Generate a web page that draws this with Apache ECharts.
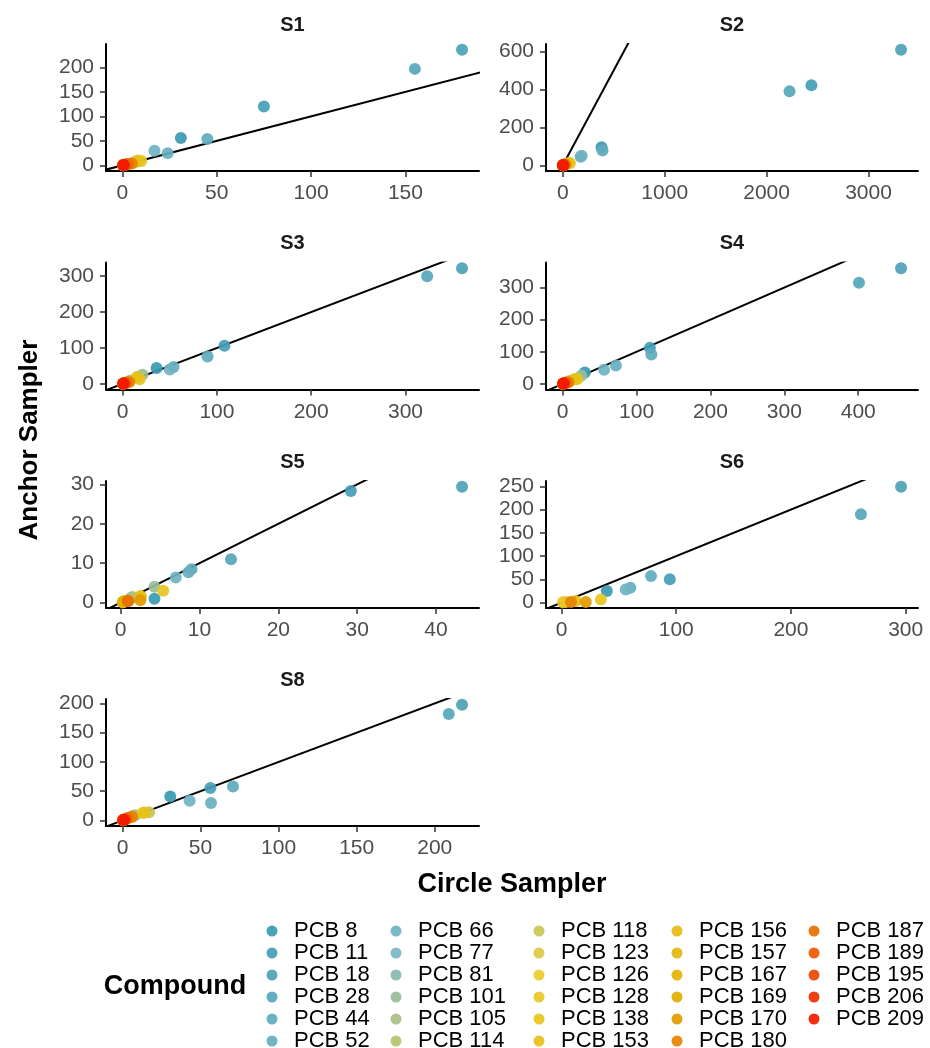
<!DOCTYPE html>
<html><head><meta charset="utf-8">
<script src="https://cdn.jsdelivr.net/npm/echarts@6/dist/echarts.min.js"></script>
<style>html,body{margin:0;padding:0;background:#fff}#c{width:930px;height:1048px}</style>
</head><body><div id="c"></div>
<script>
// ---------- data ----------
const compounds = ['PCB 8','PCB 11','PCB 18','PCB 28','PCB 44','PCB 52','PCB 66','PCB 77','PCB 81','PCB 101','PCB 105','PCB 114','PCB 118','PCB 123','PCB 126','PCB 128','PCB 138','PCB 153','PCB 156','PCB 157','PCB 167','PCB 169','PCB 170','PCB 180','PCB 187','PCB 189','PCB 195','PCB 206','PCB 209'];
const panelNames = ['S1','S2','S3','S4','S5','S6','S8'];

const S1_circle = [31, 75, 180, 155, 45, 24, 17, 2, 0.5, 6, 3, 0.5, 8, 0.6, 0.3, 2, 10, 8, 1.5, 0.5, 0.8, 0.3, 3, 5, 3, 0.3, 0.6, 1, 0.5];
const S1_anchor = [56, 120, 236, 197, 54, 25, 30, 3, 0.6, 6, 3, 0.5, 8, 0.6, 0.3, 2, 9, 10, 1.5, 0.5, 0.8, 0.3, 3, 4, 3, 0.3, 0.6, 1, 0.5];

const S2_circle = [380, 2440, 3320, 2225, 390, 175, 185, 20, 3, 40, 15, 2, 60, 3, 1, 10, 70, 55, 8, 2, 4, 1, 15, 25, 12, 1, 3, 5, 2];
const S2_anchor = [95, 421, 608, 389, 78, 45, 50, 4, 0.5, 8, 3, 0.5, 10, 0.5, 0.2, 2, 12, 9, 1.5, 0.4, 0.7, 0.2, 3, 5, 2.5, 0.2, 0.5, 1, 0.5];

const S3_circle = [36, 108, 360, 323, 90, 54, 50, 3, 0.5, 21, 8, 0.8, 16, 1, 0.3, 4, 18, 15, 2, 0.6, 1, 0.3, 5, 7, 4, 0.4, 0.8, 1.5, 0.6];
const S3_anchor = [44, 106, 322, 300, 76, 47, 40, 3, 0.5, 25, 9, 0.8, 20, 1, 0.3, 4, 13, 18, 2, 0.6, 1, 0.3, 4, 5, 3, 0.4, 0.8, 1.5, 0.6];

const S4_circle = [30, 118, 458, 401, 120, 72, 56, 3, 0.5, 25, 9, 0.8, 20, 1, 0.3, 4, 19, 16, 2, 0.6, 1, 0.3, 6, 8, 5, 0.4, 1, 2, 0.7];
const S4_anchor = [35, 112, 360, 315, 91, 57, 44, 3, 0.5, 25, 9, 0.8, 16, 1, 0.3, 4, 14, 15, 2, 0.6, 1, 0.3, 4, 5, 3, 0.4, 0.8, 1.5, 0.6];

const S5_circle = [4.3, 29.2, 43.3, 14, 9, 8.6, 7, null, 1.3, 4.3, 1.5, 0.5, 2.6, 0.4, 0.3, 0.6, 5.4, 2.5, 0.4, 0.3, 0.4, 0.3, 2.5, 1.0, 0.9, null, null, null, null];
const S5_anchor = [1.0, 28.3, 29.4, 11, 8.5, 7.7, 6.4, null, 1.2, 4.0, 1.4, 0.4, 1.5, 0.3, 0.2, 0.5, 3.0, 1.7, 0.3, 0.1, 0.2, 0.1, 0.6, 0.4, 0.4, null, null, null, null];

const S6_circle = [39.5, 94.4, 296, 261, 78, 60, 56, null, null, null, null, null, 3.8, null, null, 1.2, 34.3, 12.5, null, null, null, null, 21.2, 8.2, null, null, null, null, null];
const S6_anchor = [25, 50.3, 249, 190, 57, 32, 28, null, null, null, null, null, 1.4, null, null, 0.9, 6.5, 3.4, null, null, null, null, 1.4, 1.4, null, null, null, null, null];

const S8_circle = [30.6, 56.3, 217.5, 209, 70.8, 56.7, 43, 2, 0.5, 8, 3, 0.8, 17, 1, 0.3, 3, 13, 14, 2, 0.6, 1, 0.3, 6, 6, 3.2, 0.4, 1, 1.5, 0.5];
const S8_anchor = [41, 55.3, 197.7, 182, 58, 29.6, 33.6, 2, 0.5, 9, 3, 0.8, 14, 1, 0.3, 3, 12.5, 13.5, 2, 0.6, 1, 0.3, 6.8, 6, 4, 0.4, 1, 1.5, 0.5];

const S1_xTicks = [0, 50, 100, 150];        const S1_yTicks = [0, 50, 100, 150, 200];
const S2_xTicks = [0, 1000, 2000, 3000];    const S2_yTicks = [0, 200, 400, 600];
const S3_xTicks = [0, 100, 200, 300];       const S3_yTicks = [0, 100, 200, 300];
const S4_xTicks = [0, 100, 200, 300, 400];  const S4_yTicks = [0, 100, 200, 300];
const S5_xTicks = [0, 10, 20, 30, 40];      const S5_yTicks = [0, 10, 20, 30];
const S6_xTicks = [0, 100, 200, 300];       const S6_yTicks = [0, 50, 100, 150, 200, 250];
const S8_xTicks = [0, 50, 100, 150, 200];   const S8_yTicks = [0, 50, 100, 150, 200];

const xTitle = 'Circle Sampler';
const yTitle = 'Anchor Sampler';
const legendTitle = 'Compound';

// ---------- style ----------
const colors = ['#3B9AB2','#449EB5','#4CA2B7','#55A6BA','#5EABBD','#67AFC0','#6FB3C2','#78B7C5',
  '#88BAAF','#99BD99','#A9C083','#BAC36C','#CAC656','#DBC940','#EBCC2A',
  '#EAC824','#E8C41E','#E7C018','#E5BB12','#E4B70C','#E2B306','#E1AF00',
  '#E39A00','#E68400','#E86F00','#EB5A00','#ED4500','#F02F00','#F21A00'];
const FONT = '"Liberation Sans", Arial, Helvetica, sans-serif';
const colLeft = [106, 546], colWidth = [373, 372];
const rowTop = [44, 262.5, 481, 699], rowHeight = 127;
const panelPos = [[0,0],[0,1],[1,0],[1,1],[2,0],[2,1],[3,0]];
const legendCols = [266.5, 390.5, 533.5, 671.5, 808.5];

// ---------- build ----------
const panelData = [
  [S1_circle, S1_anchor, S1_xTicks, S1_yTicks],
  [S2_circle, S2_anchor, S2_xTicks, S2_yTicks],
  [S3_circle, S3_anchor, S3_xTicks, S3_yTicks],
  [S4_circle, S4_anchor, S4_xTicks, S4_yTicks],
  [S5_circle, S5_anchor, S5_xTicks, S5_yTicks],
  [S6_circle, S6_anchor, S6_xTicks, S6_yTicks],
  [S8_circle, S8_anchor, S8_xTicks, S8_yTicks]
];
function limits(arr) {
  const v = arr.filter(d => d !== null);
  const lo = Math.min(...v), hi = Math.max(...v), r = hi - lo;
  return [lo - 0.05 * r, hi + 0.05 * r];
}
const plain = v => String(v);
const grids = [], xAxes = [], yAxes = [], series = [], graphics = [];
panelData.forEach((p, i) => {
  const [cx, cy, xt, yt] = p;
  const [r, c] = panelPos[i];
  grids.push({left: colLeft[c], top: rowTop[r], width: colWidth[c], height: rowHeight, containLabel: false});
  const xl = limits(cx), yl = limits(cy);
  xAxes.push({type: 'value', gridIndex: i, min: xl[0], max: xl[1],
    axisLine: {show: true, onZero: false, lineStyle: {color: '#000', width: 2}},
    axisTick: {show: true, length: 6, customValues: xt, lineStyle: {color: '#333', width: 1.5}},
    axisLabel: {customValues: xt, formatter: plain, fontSize: 21, color: '#4D4D4D', margin: 12, fontFamily: FONT},
    splitLine: {show: false}});
  yAxes.push({type: 'value', gridIndex: i, min: yl[0], max: yl[1],
    axisLine: {show: true, onZero: false, lineStyle: {color: '#000', width: 2}},
    axisTick: {show: true, length: 6, customValues: yt, lineStyle: {color: '#333', width: 1.5}},
    axisLabel: {customValues: yt, formatter: plain, fontSize: 21, color: '#4D4D4D', margin: 12, fontFamily: FONT},
    splitLine: {show: false}});
  const lo = Math.min(xl[0], yl[0]), hi = Math.max(xl[1], yl[1]);
  series.push({type: 'line', name: 'identity', xAxisIndex: i, yAxisIndex: i,
    data: [[lo, lo], [hi, hi]], symbol: 'none', clip: true, silent: true, z: 1,
    lineStyle: {color: '#000', width: 2}, animation: false});
  compounds.forEach((name, k) => {
    const pts = (cx[k] !== null && cy[k] !== null) ? [[cx[k], cy[k]]] : [];
    series.push({type: 'scatter', name: name, xAxisIndex: i, yAxisIndex: i, data: pts,
      symbol: 'circle', symbolSize: 12, z: 2,
      itemStyle: {color: colors[k], opacity: 0.92}});
  });
  graphics.push({type: 'text', x: colLeft[c] + colWidth[c] / 2, y: rowTop[r] - 19,
    style: {text: panelNames[i], font: 'bold 20px ' + FONT, fill: '#1A1A1A', textAlign: 'center', textVerticalAlign: 'middle'}});
});
graphics.push({type: 'text', x: 512, y: 885,
  style: {text: xTitle, font: 'bold 27px ' + FONT, fill: '#000', textAlign: 'center', textVerticalAlign: 'middle'}});
graphics.push({type: 'text', x: 30, y: 440, rotation: Math.PI / 2,
  style: {text: yTitle, font: 'bold 26px ' + FONT, fill: '#000', textAlign: 'center', textVerticalAlign: 'middle'}});
graphics.push({type: 'text', x: 175, y: 987,
  style: {text: legendTitle, font: 'bold 27px ' + FONT, fill: '#000', textAlign: 'center', textVerticalAlign: 'middle'}});

const legends = legendCols.map((lx, j) => ({
  left: lx, top: 920, height: 140, orient: 'vertical', padding: 0, itemGap: 0,
  itemWidth: 34, itemHeight: 11, icon: 'circle', selectedMode: false,
  textStyle: {fontSize: 22, lineHeight: 22, color: '#000', fontFamily: FONT},
  data: compounds.slice(j * 6, j * 6 + 6)
}));

const chart = echarts.init(document.getElementById('c'), null, {renderer: 'canvas'});
chart.setOption({
  animation: false,
  backgroundColor: '#fff',
  textStyle: {fontFamily: FONT},
  grid: grids, xAxis: xAxes, yAxis: yAxes,
  legend: legends, series: series, graphic: graphics
});
</script></body></html>
